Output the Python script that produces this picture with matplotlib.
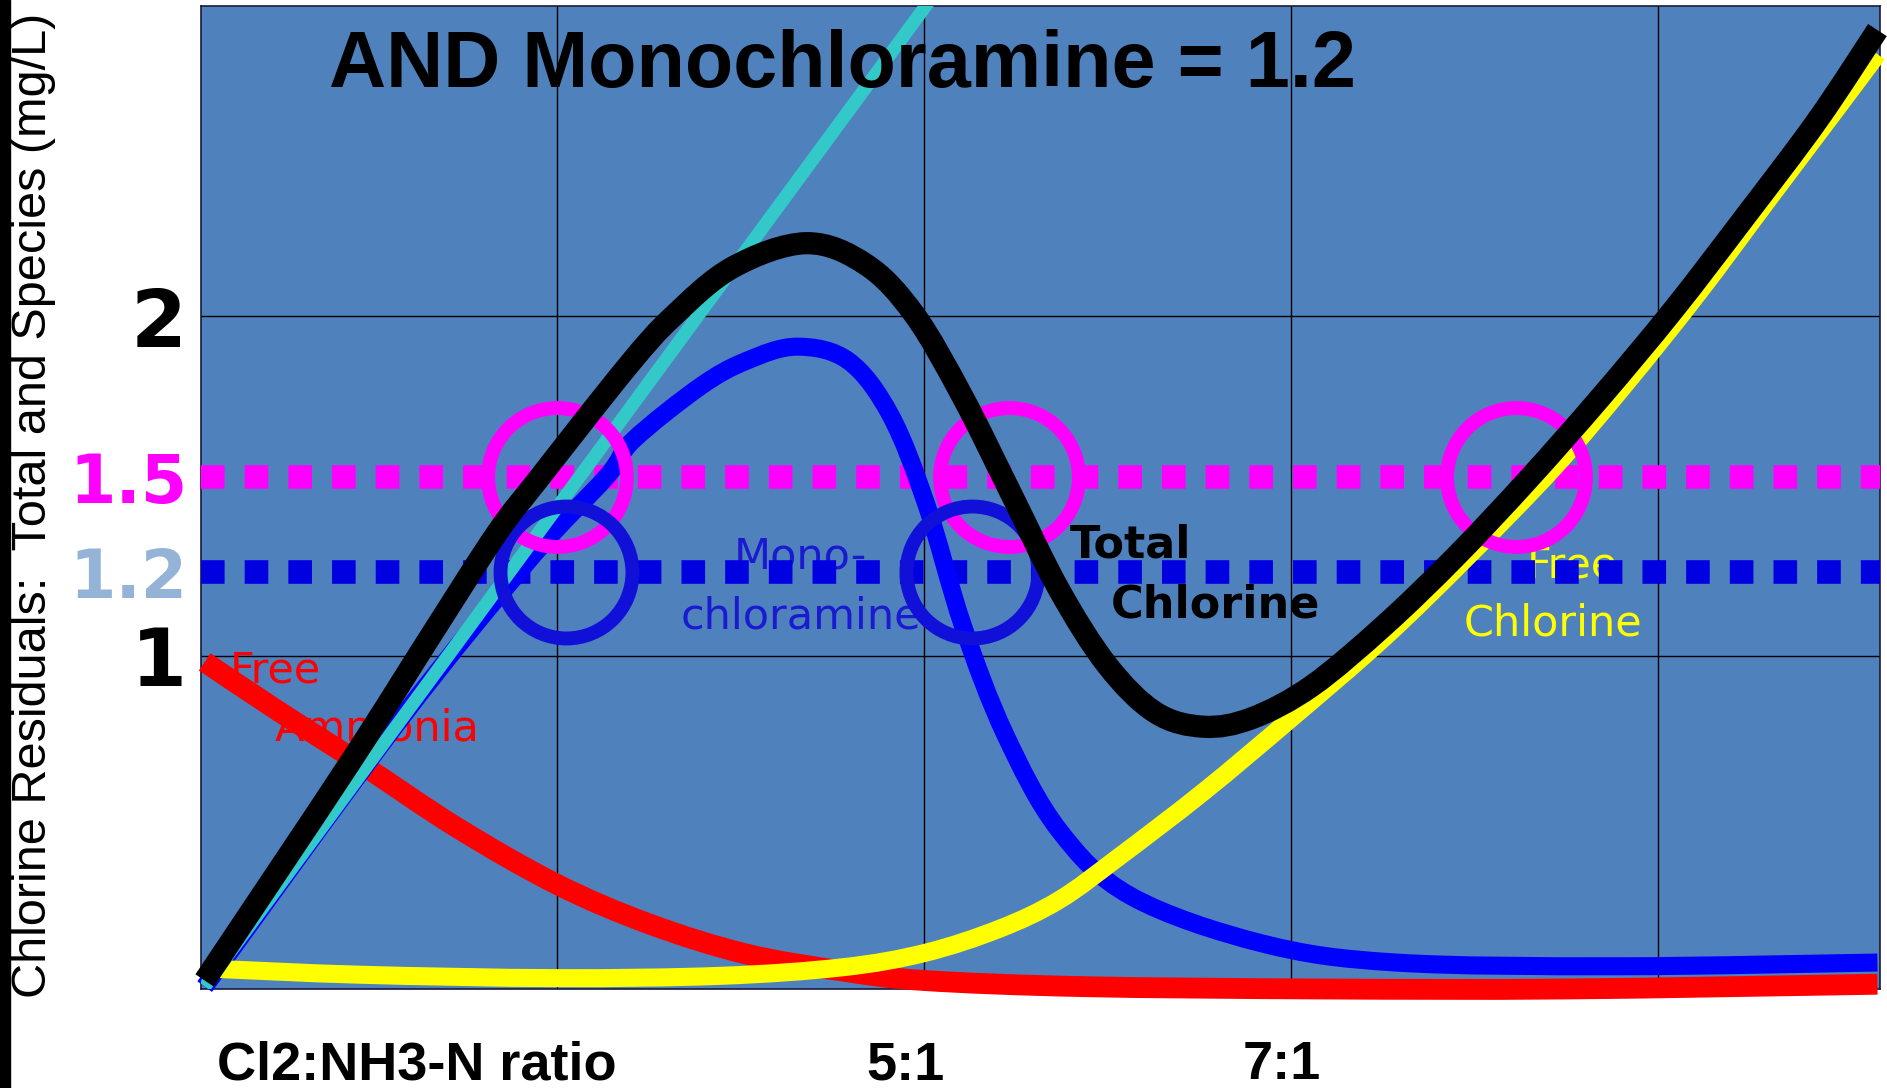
import matplotlib.pyplot as plt
from matplotlib.patches import Rectangle, PathPatch
from matplotlib.path import Path

# chart data
x_grid = [3, 5, 7, 9]
y_grid = [1, 2]

cyan_x = [1.08, 5.15]
cyan_y = [0.025, 3.02]

mono_x = [1.079, 2.134, 2.849, 3.269, 3.413, 3.780, 4.030, 4.305, 4.587, 4.816, 5.013,
          5.21, 5.439, 5.734, 6.128, 6.843, 7.570, 8.790, 10.193]
mono_y = [0.025, 0.805, 1.284, 1.528, 1.635, 1.794, 1.869, 1.911, 1.869, 1.709, 1.443,
          1.089, 0.770, 0.486, 0.291, 0.152, 0.096, 0.085, 0.096]

total_x = [1.079, 1.866, 2.325, 2.672, 2.908, 3.380, 3.630, 3.957, 4.357, 4.685, 4.948,
           5.21, 5.472, 5.734, 5.997, 6.259, 6.521, 6.784, 7.111, 7.505, 7.898, 8.292,
           8.685, 9.079, 9.472, 9.866, 10.193]
total_y = [0.043, 0.681, 1.071, 1.362, 1.528, 1.851, 2.0, 2.145, 2.216, 2.152, 2.004,
           1.762, 1.479, 1.195, 0.972, 0.833, 0.791, 0.816, 0.911, 1.089, 1.294, 1.521,
           1.762, 2.018, 2.294, 2.578, 2.844]

free_cl_x = [1.111, 1.931, 3.0, 3.898, 4.554, 5.0, 5.407, 5.734, 6.062, 6.521, 7.0,
             7.505, 7.964, 8.423, 8.816, 9.21, 9.603, 9.997, 10.193]
free_cl_y = [0.078, 0.060, 0.050, 0.057, 0.082, 0.124, 0.195, 0.28, 0.408, 0.599, 0.816,
             1.053, 1.294, 1.55, 1.798, 2.064, 2.348, 2.631, 2.773]

ammonia_x = [1.079, 1.472, 1.931, 2.456, 3.0, 3.505, 4.03, 4.554, 5.0, 5.866, 7.177,
             8.489, 10.193]
ammonia_y = [0.982, 0.84, 0.681, 0.493, 0.326, 0.209, 0.121, 0.071, 0.043, 0.025, 0.018,
             0.018, 0.032]

total_target = 1.528
mono_target = 1.248
magenta_circles_x = [3.0, 5.459, 8.226]
blue_circles_x = [3.046, 5.262]

ytick_vals = [2, total_target, mono_target, 1]
ytick_labels = ['2', '1.5', '1.2', '1']
ytick_colors = ['black', '#ff00ff', '#95b3d7', 'black']
ytick_sizes = [58, 48, 48, 58]

xtick_vals = [2.233, 4.9, 6.95]
xtick_labels = ['Cl2:NH3-N ratio', '5:1', '7:1']


def smooth_curve(xs, ys):
    # catmull-rom through the read points, drawn as cubic bezier segments
    pts = list(zip(xs, ys))
    ext = [pts[0]] + pts + [pts[-1]]
    verts = [pts[0]]
    codes = [Path.MOVETO]
    for i in range(1, len(ext) - 2):
        p0, p1, p2, p3 = ext[i - 1], ext[i], ext[i + 1], ext[i + 2]
        c1 = (p1[0] + (p2[0] - p0[0]) / 6, p1[1] + (p2[1] - p0[1]) / 6)
        c2 = (p2[0] - (p3[0] - p1[0]) / 6, p2[1] - (p3[1] - p1[1]) / 6)
        verts += [c1, c2, p2]
        codes += [Path.CURVE4] * 3
    return Path(verts, codes)


fig = plt.figure(figsize=(18.87, 10.88), dpi=100)
fig.patches.append(Rectangle((0, 0), 10 / 1887, 1, transform=fig.transFigure,
                             color='black', zorder=0))
ax = fig.add_axes([201 / 1887, 99 / 1088, 1679 / 1887, 983 / 1088])
ax.set_facecolor('#4f81bd')
ax.set_xlim(1.059, 10.207)
ax.set_ylim(0.018, 2.915)
for s in ax.spines.values():
    s.set_linewidth(1.2)
    s.set_color('#1a1a3a')

for gx in x_grid:
    ax.axvline(gx, color='black', lw=1, zorder=1)
for gy in y_grid:
    ax.axhline(gy, color='black', lw=1, zorder=1)

# labels on the curves
ax.text(1.466, 0.957, 'Free', color='red', fontsize=31, ha='center', va='center', zorder=2)
ax.text(2.016, 0.787, 'Ammonia', color='red', fontsize=31, ha='center', va='center', zorder=2)
ax.text(4.325, 1.294, 'Mono-', color='#1a1ad0', fontsize=31, ha='center', va='center', zorder=2)
ax.text(4.325, 1.117, 'chloramine', color='#1a1ad0', fontsize=31, ha='center', va='center', zorder=2)
ax.text(6.121, 1.326, 'Total', color='black', fontsize=32, fontweight='bold',
        ha='center', va='center', zorder=6)
ax.text(6.587, 1.149, 'Chlorine', color='black', fontsize=32, fontweight='bold',
        ha='center', va='center', zorder=6)
ax.text(8.528, 1.266, 'Free', color='yellow', fontsize=31, ha='center', va='center', zorder=2)
ax.text(8.423, 1.096, 'Chlorine', color='yellow', fontsize=31, ha='center', va='center', zorder=2)

# dotted target lines
ax.axhline(total_target, color='#ff00ff', lw=17, dashes=(1, 0.85), dash_capstyle='butt', zorder=3)
ax.axhline(mono_target, color='#0000e0', lw=17, dashes=(1, 0.85), dash_capstyle='butt', zorder=3)

# curves
curves = [(ammonia_x, ammonia_y, 'red', 15, 4.0),
          (mono_x, mono_y, 'blue', 13, 4.1),
          (free_cl_x, free_cl_y, 'yellow', 13, 4.2)]
for xs, ys, c, w, z in curves:
    ax.add_patch(PathPatch(smooth_curve(xs, ys), fill=False, edgecolor=c, lw=w,
                           capstyle='butt', joinstyle='round', clip_on=False, zorder=z))
ax.plot(cyan_x, cyan_y, color='#33c9c9', lw=9.5, solid_capstyle='butt', zorder=4.3)

# circles where the curves meet the targets
ax.plot(magenta_circles_x, [total_target] * len(magenta_circles_x), 'o', ms=100,
        mfc='none', mec='#ff00ff', mew=10, zorder=4.4)
ax.plot(blue_circles_x, [mono_target] * len(blue_circles_x), 'o', ms=95,
        mfc='none', mec='#1010d8', mew=10, zorder=4.4)

ax.add_patch(PathPatch(smooth_curve(total_x, total_y), fill=False, edgecolor='black', lw=16,
                       capstyle='butt', joinstyle='round', clip_on=False, zorder=5))

ax.text(4.554, 2.738, 'AND Monochloramine = 1.2', color='black', fontsize=57,
        fontweight='bold', family='Liberation Sans',
        ha='center', va='center', zorder=6)

ax.set_yticks(ytick_vals)
ax.set_yticklabels(ytick_labels, fontweight='bold')
for lab, c, sz in zip(ax.get_yticklabels(), ytick_colors, ytick_sizes):
    lab.set_color(c)
    lab.set_fontsize(sz)
ax.tick_params(axis='y', length=0, pad=10)

ax.set_xticks(xtick_vals)
ax.set_xticklabels(xtick_labels, fontsize=39, fontweight='bold', family='Liberation Sans')
ax.tick_params(axis='x', length=0, pad=37)

fig.text(34 / 1887, 1 - 505 / 1088, 'Chlorine Residuals:  Total and Species (mg/L)',
         rotation=90, ha='center', va='center', fontsize=35, family='Liberation Sans')

fig.savefig('out.png', dpi=100)
